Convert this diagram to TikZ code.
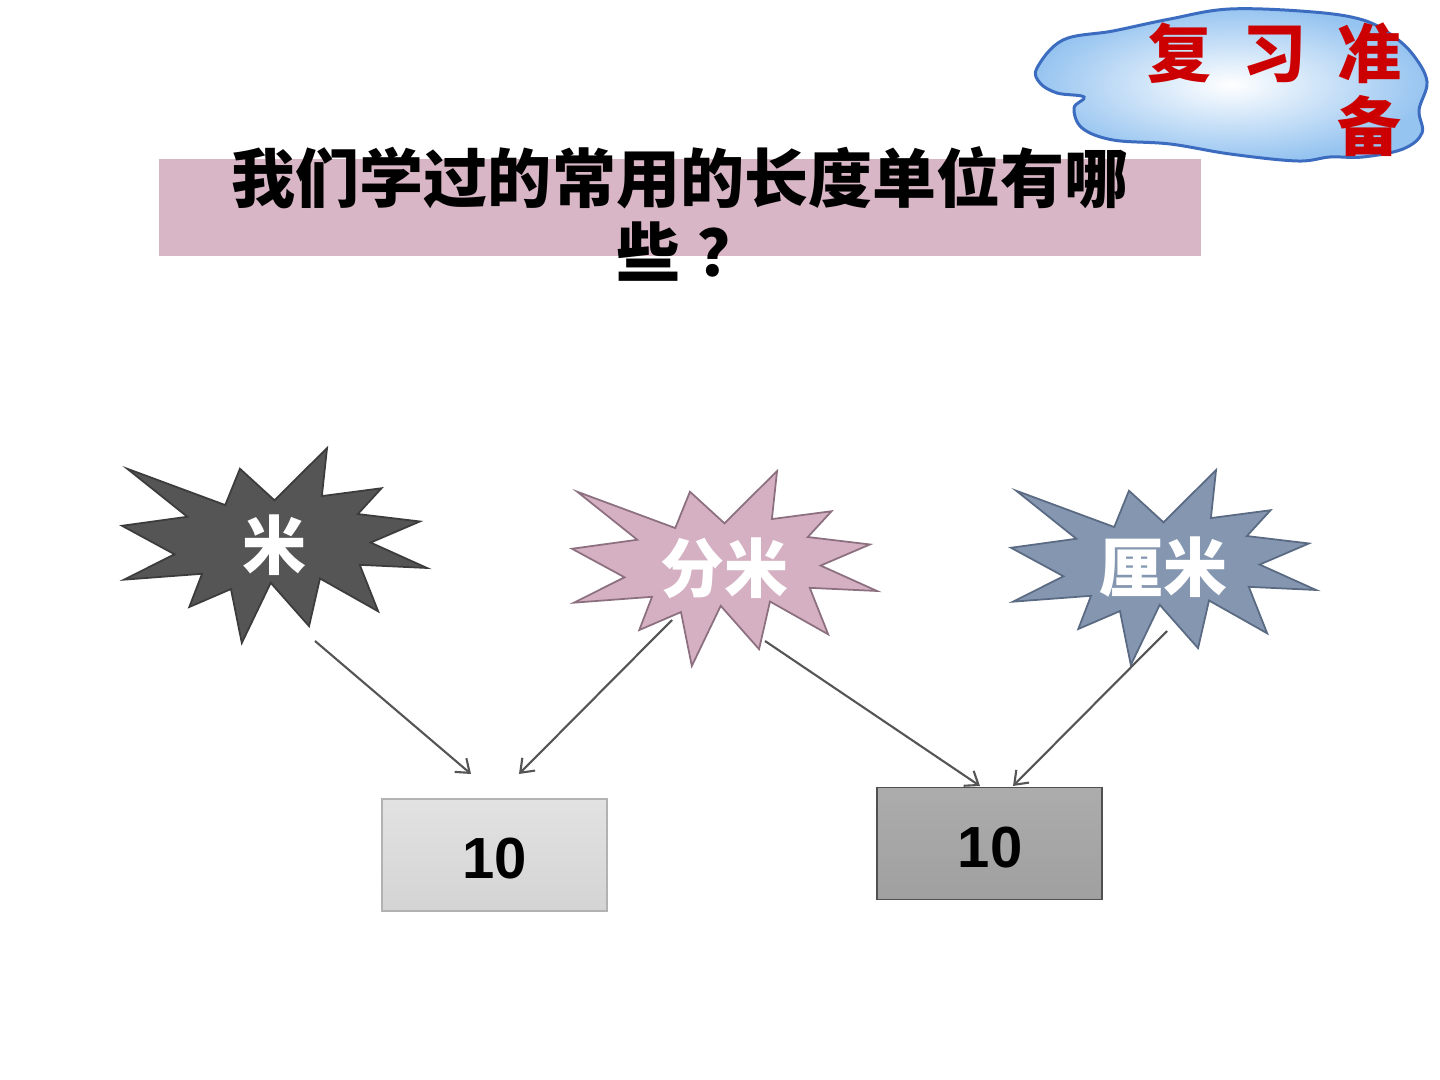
\documentclass[tikz,border=0pt]{standalone}
\usepackage{fontspec}
\newfontfamily\cjk{Noto Sans CJK SC}
\newfontfamily\arialf{Liberation Sans}
\usetikzlibrary{arrows.meta}
\definecolor{titlebar}{RGB}{216,182,197}
\definecolor{darkstar}{RGB}{85,85,85}
\definecolor{darkstarline}{RGB}{60,60,60}
\definecolor{pinkstar}{RGB}{212,176,194}
\definecolor{pinkstarline}{RGB}{140,112,128}
\definecolor{bluestar}{RGB}{132,150,176}
\definecolor{bluestarline}{RGB}{90,106,130}
\definecolor{cloudline}{RGB}{60,108,192}
\definecolor{cloudout}{RGB}{150,196,240}
\definecolor{redtxt}{RGB}{204,0,0}
\definecolor{arrowgray}{RGB}{85,85,85}
\newcommand\myburst[4]{%
  \begin{scope}[shift={(#1,#2)},xscale=3.05,yscale=1.95]
    \filldraw[fill=#3,draw=#4,line width=0.5pt,line join=miter]
      (50,26.85) -- (67.23,0) -- (65.53,24.65) -- (85.09,20.63) -- (77.32,33.87)
      -- (97.67,37.67) -- (81.51,48.50) -- (100,61.53) -- (77.95,59.92)
      -- (84.00,83.77) -- (64.91,66.93) -- (61.33,91.38) -- (48.76,69.14)
      -- (39.28,100) -- (35.72,72.35) -- (22.05,81.56) -- (26.24,64.52)
      -- (0.63,67.53) -- (17.23,54.51) -- (0,39.88) -- (21.42,35.26)
      -- (1.71,10.63) -- (33.85,29.26) -- (38.67,10.63) -- cycle;
  \end{scope}}
\tikzset{
  startext/.style={text=white,font=\cjk\bfseries\fontsize{18.2pt}{20pt}\selectfont,inner sep=0pt},
  numbox/.style={minimum width=2.25cm,minimum height=1.12cm,inner sep=0pt,line width=0.5pt},
  numtext/.style={font=\arialf\bfseries\fontsize{16.5pt}{18pt}\selectfont,text=black,inner sep=0pt},
  arr/.style={draw=arrowgray,line width=0.6pt,-{Straight Barb[length=0.12cm,width=0.18cm]}}
}
\begin{document}
\begin{tikzpicture}[x=0.01cm,y=-0.01cm]
\useasboundingbox (0,0) rectangle (1440,1080);
\fill[white] (0,0) rectangle (1440,1080);

% cloud
\shadedraw[inner color=white,outer color=cloudout,draw=cloudline,line width=0.85pt]
  plot[smooth cycle,tension=0.6] coordinates {
  (1037,68) (1063,40) (1113,31) (1170,19) (1230,9) (1313,12) (1363,20)
  (1393,36) (1414,56) (1427,82) (1419,110) (1422,133) (1403,149)
  (1363,157) (1330,157) (1297,161) (1230,154) (1170,144) (1113,140)
  (1082,128) (1074,108) (1084,97) (1057,93) (1040,83)};
\node[anchor=east,align=right,text=redtxt,inner sep=0pt,
  font=\cjk\bfseries\fontsize{18.2pt}{20.8pt}\selectfont] (cloudtxt) at (1402,90)
  {复\hspace{0.31cm}习\hspace{0.31cm}准\\备};

% title
\node[fill=titlebar,minimum width=10.42cm,minimum height=0.97cm,inner sep=0pt] (bar) at (680,207.5) {};
\node[align=center,inner sep=0pt,font=\cjk\bfseries\fontsize{18.2pt}{20.8pt}\selectfont] (title) at (680,214)
  {我们学过的常用的长度单位有哪\\\hspace{0.18cm}些\hspace{0.18cm}？};

% stars
\myburst{122}{448}{darkstar}{darkstarline}
\node[startext] (mi) at (274.5,545.5) {米};
\myburst{572}{471}{pinkstar}{pinkstarline}
\node[startext] (fenmi) at (724.5,568) {分米};
\myburst{1011}{470}{bluestar}{bluestarline}
\node[startext] (limi) at (1163.5,567) {厘米};

% boxes
\node[numbox,top color={rgb,255:red,226;green,226;blue,226},bottom color={rgb,255:red,212;green,212;blue,212},draw={rgb,255:red,178;green,178;blue,178}] (b1) at (494.5,855) {};
\node[numtext] (n1) at (495,859) {10};
\node[numbox,top color={rgb,255:red,172;green,172;blue,172},bottom color={rgb,255:red,160;green,160;blue,160},draw={rgb,255:red,80;green,80;blue,80}] (b2) at (989.5,843.5) {};
\node[numtext] (n2) at (990,848) {10};

% arrow endpoints
\coordinate (mi-out) at (315,641);
\coordinate (fm-outl) at (672,620);
\coordinate (fm-outr) at (765,641);
\coordinate (lm-out) at (1167,631);
\coordinate (b1-inl) at (471,774);
\coordinate (b1-inr) at (519,774);
\coordinate (b2-inl) at (980,786);
\coordinate (b2-inr) at (1013,786);

\draw[arr] (mi-out) -- (b1-inl);
\draw[arr] (fm-outl) -- (b1-inr);
\draw[arr] (fm-outr) -- (b2-inl);
\draw[arr] (lm-out) -- (b2-inr);
\end{tikzpicture}
\end{document}
